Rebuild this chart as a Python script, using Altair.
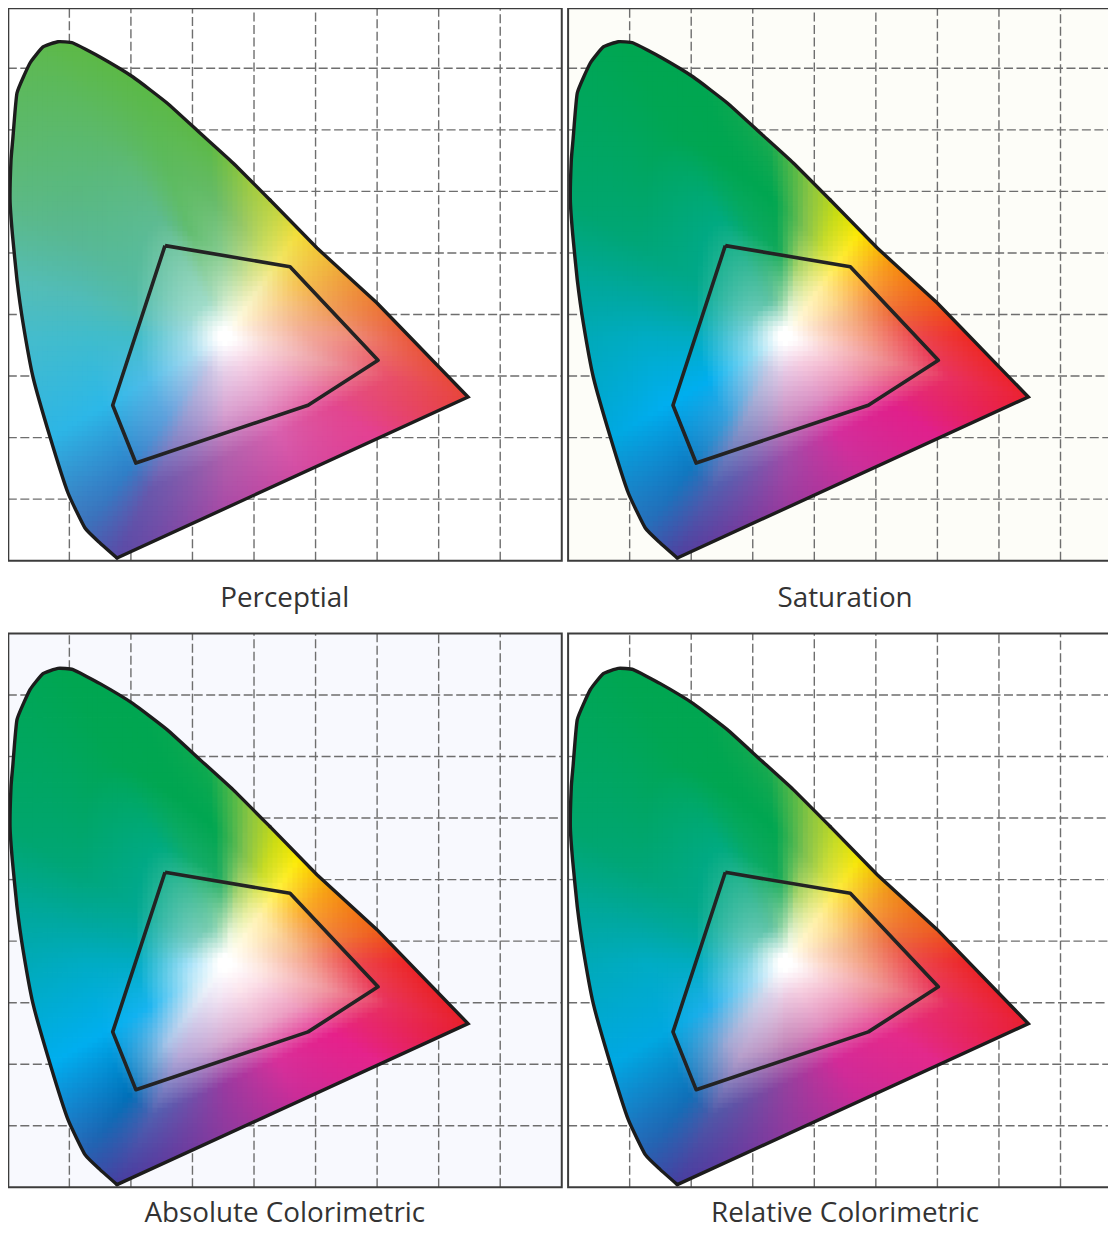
import numpy as np
import pandas as pd
import altair as alt

alt.data_transformers.disable_max_rows()

# ---- values (chromaticity units, 0..0.9 on both axes)
GRID = [0.1, 0.2, 0.3, 0.4, 0.5, 0.6, 0.7, 0.8]
LOCUS_X = [.1774, .1498, .1254, .0978, .0686, .0409, .0247, .0149, .0075, .0036, .0052, .0080, .0149, .0361,
           .0572, .0816, .1059, .1498, .2034, .2587, .3123, .3659, .4260, .5023, .5998, .7477]
LOCUS_Y = [.0044, .0288, .0531, .1100, .2010, .2985, .3862, .4560, .5300, .5860, .6510, .6836, .7599, .8087,
           .8347, .8432, .8411, .8184, .7859, .7437, .6949, .6462, .5860, .5080, .4187, .2660]
GAMUT_X = [.2554, .4585, .6015, .4878, .2080, .1704]
GAMUT_Y = [.5119, .4777, .3258, .2526, .1587, .2526]
WHITE_X, WHITE_Y = 0.3545, 0.365

TITLES = ["Perceptial", "Saturation", "Absolute Colorimetric", "Relative Colorimetric"]
BACKGROUNDS = ["#ffffff", "#fdfdf8", "#f8f9fe", "#ffffff"]
COLUMN_SHIFT = [0, .9103, 0, .9103]
ROW_SHIFT = [0, 0, -1.0181, -1.0181]
TITLE_Y = [-.0752, -.0752, -.0560, -.0560]

# colours sampled along spokes from the white point, angle in degrees
ANGLES = [-150, -126, -116, -90, -62, -33, -14, 0, 12, 35, 55, 68, 81, 95, 109, 119, 148, 165, 180]
RINGS = [0, .04, .2, .45, .7, 1]
PERCEPTUAL = [
    ["#a8dcf0", "#50bce8", "#2cb8e8", "#2db5e5"], ["#b8c8e8", "#60a0dc", "#2f80c8", "#3f6fb9"],
    ["#c8c4e4", "#9090cc", "#6a58ac", "#5a4aa6"], ["#e8cfe8", "#d8a0d0", "#b060ac", "#ab4aa6"],
    ["#f5d5e8", "#e4a0cc", "#d860ae", "#d34ba2"], ["#f8d4e0", "#eb94bc", "#e2478f", "#e43f92"],
    ["#f8d8d8", "#ec9aa0", "#e84f6a", "#e8453a"], ["#fadcd0", "#f2a898", "#ee8a78", "#ea5a3c"],
    ["#fbe0d0", "#f4b890", "#ef9a5c", "#ed7a35"], ["#fdeed0", "#f9d898", "#f5c050", "#efb53a"],
    ["#fdf8d8", "#f5eeb0", "#f2e66a", "#f3dd35"], ["#f0f4d8", "#d8e498", "#c8dc60", "#c4d540"],
    ["#e0f0d0", "#b0d890", "#98c868", "#9fcb3e"], ["#c4e6c4", "#80c98c", "#66bb6a", "#5cb946"],
    ["#a8dcc0", "#62bd70", "#5cba5c", "#5bb947"], ["#a0dcc8", "#5ebb90", "#5cb968", "#5db947"],
    ["#a0dcd0", "#55bba0", "#58b896", "#5cb984"], ["#9fdadc", "#50bcb0", "#50bcb8", "#55bdb5"],
    ["#a0dce6", "#40bcc8", "#40bccc", "#45bccc"],
]
SATURATION = [
    ["#90dcf2", "#00aeef", "#00aeef", "#00a8e0"], ["#b8cce8", "#3aa0dc", "#0f78c0", "#2a6cb8"],
    ["#c8c8e4", "#8894c8", "#4f60b0", "#50409f"], ["#e8c8e4", "#cc90c4", "#a04ca8", "#9a3a9e"],
    ["#f5cce0", "#dd90c4", "#d42e9c", "#c9309a"], ["#f8cfdc", "#ec8ab0", "#e0208a", "#e0208c"],
    ["#fad4d4", "#ee8a90", "#e83060", "#ec2230"], ["#fcd8c8", "#f49a80", "#ec4a50", "#ee2a24"],
    ["#fcdcc8", "#f4ac80", "#ee6a3a", "#ef5a1a"], ["#feeccc", "#fcd88c", "#fbb040", "#f79410"],
    ["#fff6d0", "#fff0a0", "#ffec40", "#fbe800"], ["#f0f4d0", "#e0e888", "#c8dc30", "#c8dc10"],
    ["#e0f0d0", "#a8d468", "#7cc050", "#8cc63f"], ["#90d4a0", "#10a858", "#00a651", "#1aaa50"],
    ["#68c4a0", "#08aa68", "#00a651", "#00a651"], ["#60c4a8", "#00aa80", "#00a654", "#00a651"],
    ["#70ccc0", "#00a88a", "#00a678", "#00a66c"], ["#78d0d4", "#00aaa0", "#00a8a0", "#00a89a"],
    ["#80d4e4", "#00acc0", "#00acc4", "#00aab8"],
]
ABSOLUTE = [
    ["#c0e8f8", "#18b4f0", "#00aeef", "#00aeef"], ["#e8eef8", "#a8c4e8", "#0070b8", "#2a60b0"],
    ["#e8e4f4", "#b8a8d8", "#5060b0", "#463ea0"], ["#f4e0f0", "#d8a8d0", "#9a3aa0", "#8e3a9e"],
    ["#fce4ec", "#e8a8cc", "#d8309a", "#c92c98"], ["#fce0e8", "#ee9cc0", "#e6208a", "#e4248c"],
    ["#fde4e0", "#f098a0", "#e8305c", "#e8202a"], ["#fde4d8", "#f4a490", "#ec4a50", "#ec2428"],
    ["#feead8", "#f6bc90", "#ef7a40", "#f0601a"], ["#fff4dc", "#fde0a0", "#fbb030", "#f69a10"],
    ["#fffae0", "#fff2b0", "#fff040", "#fcea00"], ["#f4f8d8", "#e4ec90", "#c8dc28", "#cedc10"],
    ["#e8f4d8", "#a8d470", "#7cc050", "#8cc63f"], ["#a8dcb0", "#18aa60", "#00a651", "#10aa50"],
    ["#80d0b0", "#10ac6c", "#00a651", "#00a651"], ["#78ccb0", "#00aa80", "#00a654", "#00a651"],
    ["#80d0c8", "#00a890", "#00a678", "#00a66c"], ["#90d8e0", "#00aaa8", "#00a8a0", "#00a89a"],
    ["#a0e0f8", "#00acc4", "#00acc4", "#00aab8"],
]
RELATIVE = [
    ["#a0dcf4", "#20b0ec", "#00a8e0", "#00a8e4"], ["#d0d8ec", "#a0a8d4", "#0f70b8", "#2a60b0"],
    ["#d8d0e8", "#b8a0cc", "#4f58a8", "#473ea0"], ["#ecc8e0", "#c88cbc", "#94409e", "#8f3a9e"],
    ["#f6cfe0", "#e090c0", "#d42a98", "#c92c98"], ["#f8d0dc", "#ec88b0", "#e42a8a", "#e2288c"],
    ["#fad4d4", "#ee8c90", "#e82c60", "#ea2030"], ["#fcd8c8", "#f29c80", "#ec4a50", "#ec2428"],
    ["#fcdcc8", "#f2ac80", "#ec6a40", "#ee5c20"], ["#feeccc", "#fcd88c", "#f8b040", "#f09018"],
    ["#fff6d0", "#fff0a0", "#fdea40", "#f5e600"], ["#f0f4d0", "#e0e888", "#c8dc40", "#c8dc20"],
    ["#e0f0d0", "#a8d468", "#7cc050", "#8cc63f"], ["#90d4a0", "#10a858", "#00a651", "#1aaa50"],
    ["#68c4a0", "#08aa68", "#00a651", "#00a651"], ["#60c4a8", "#00aa80", "#00a654", "#00a651"],
    ["#70ccc0", "#00a88a", "#00a678", "#00a66c"], ["#78d0d4", "#00aaa0", "#00a8a0", "#00a89a"],
    ["#80d4e4", "#00acc0", "#00acc4", "#00aab8"],
]
TABLES = [PERCEPTUAL, SATURATION, ABSOLUTE, RELATIVE]

PX_PER_UNIT = 615.5
CELL = 5
CORE_RADIUS = 190 / PX_PER_UNIT  # rim length used for the white core, so the core stays round
WIDTH, HEIGHT = 1100, 1221
X_DOMAIN = [0.0003, 0.0003 + WIDTH / PX_PER_UNIT]
Y_DOMAIN = [.898 - HEIGHT / PX_PER_UNIT, .898]

lx, ly = np.array(LOCUS_X), np.array(LOCUS_Y)
cx, cy = np.r_[lx, lx[0]], np.r_[ly, ly[0]]
CURVE_END = 23  # outline is curved up to this point, straight after it


def rim_radius(theta):
    """Distance from the white point to the outline along each angle."""
    dx, dy = np.cos(theta), np.sin(theta)
    best = np.full(theta.shape, np.inf)
    for i in range(len(cx) - 1):
        ex, ey = cx[i + 1] - cx[i], cy[i + 1] - cy[i]
        qx, qy = cx[i] - WHITE_X, cy[i] - WHITE_Y
        den = dx * ey - dy * ex
        with np.errstate(divide="ignore", invalid="ignore"):
            t = (qx * ey - qy * ex) / den
            u = (qx * dy - qy * dx) / den
        ok = (t > 0) & (u >= 0) & (u <= 1)
        best = np.where(ok & (t < best), t, best)
    return best


def hex_rgb(h):
    return [int(h[i:i + 2], 16) for i in (1, 3, 5)]


step = CELL / PX_PER_UNIT
gx, gy = np.meshgrid(np.arange(step / 2, .9, step), np.arange(step / 2, .9, step))
gx, gy = gx.ravel(), gy.ravel()
ang = np.arctan2(gy - WHITE_Y, gx - WHITE_X)
dist = np.hypot(gx - WHITE_X, gy - WHITE_Y)
rim = rim_radius(ang)
keep = dist / rim <= 1.06
gx, gy, ang, dist, rim = gx[keep], gy[keep], np.degrees(ang[keep]), dist[keep], rim[keep]
core = .2 * np.minimum(rim, CORE_RADIUS)
frac = np.where(dist < core, .2 * dist / core, .2 + .8 * (dist - core) / (rim - core))
frac = np.clip(frac, 0, 1)


def field(table, dx, dy):
    t = np.zeros((len(ANGLES), len(RINGS), 3))
    for a, row in enumerate(table):
        t[a, 0] = t[a, 1] = 255
        t[a, 2:] = [hex_rgb(c) for c in row]
    by_ring = np.stack([[np.interp(ang, ANGLES, t[:, r, ch], period=360) for ch in range(3)]
                        for r in range(len(RINGS))])  # ring, channel, cell
    pos = np.interp(frac, RINGS, np.arange(len(RINGS)))
    lo = np.minimum(pos.astype(int), len(RINGS) - 2)
    w = pos - lo
    idx = np.arange(len(gx))
    rgb = np.stack([by_ring[lo, ch, idx] * (1 - w) + by_ring[lo + 1, ch, idx] * w for ch in range(3)], axis=1)
    rgb = rgb.round().astype(int)
    return pd.DataFrame({"x": (gx + dx).round(4), "y": (gy + dy).round(4),
                         "c": ["#%02x%02x%02x" % tuple(v) for v in rgb]})


def crossings(value, a, b):
    out = []
    for i in range(len(a) - 1):
        if (a[i] - value) * (a[i + 1] - value) <= 0 and a[i] != a[i + 1]:
            out.append(b[i] + (value - a[i]) / (a[i + 1] - a[i]) * (b[i + 1] - b[i]))
    return out


def grid_parts():
    rows = []
    for g in GRID:
        hit = crossings(g, cx, cy)
        for s, e in ([(0, min(hit)), (max(hit), .9)] if hit else [(0, .9)]):
            rows.append({"x": g, "x2": g, "y": s, "y2": e})
        hit = crossings(g, cy, cx)
        for s, e in ([(0, min(hit)), (max(hit), .9)] if hit else [(0, .9)]):
            rows.append({"x": s, "x2": e, "y": g, "y2": g})
    return pd.DataFrame(rows)


X = alt.X("x:Q", scale=alt.Scale(domain=X_DOMAIN, nice=False, zero=False), axis=None)
Y = alt.Y("y:Q", scale=alt.Scale(domain=Y_DOMAIN, nice=False, zero=False), axis=None)
parts = grid_parts()
layers = []


def path(xs, ys, dx, dy):
    return pd.DataFrame({"x": np.asarray(xs) + dx, "y": np.asarray(ys) + dy, "i": range(len(xs))})


for k in range(4):
    dx, dy = COLUMN_SHIFT[k], ROW_SHIFT[k]
    layers.append(alt.Chart(field(TABLES[k], dx, dy)).mark_rect(width=CELL + .7, height=CELL + .7).encode(
        x=X, y=Y, color=alt.Color("c:N", scale=None)))
    mx = [0, .9, .9, 0, 0] + list(cx) + [0]
    my = [0, 0, .9, .9, 0] + list(cy) + [0]
    layers.append(alt.Chart(path(mx, my, dx, dy)).mark_line(fill=BACKGROUNDS[k], strokeOpacity=0).encode(
        x=X, y=Y, order="i:Q"))
    shifted = parts.assign(x=parts.x + dx, x2=parts.x2 + dx, y=parts.y + dy, y2=parts.y2 + dy)
    layers.append(alt.Chart(shifted).mark_rule(color="#6e6e6e", strokeWidth=1.4, strokeDash=[9, 3.5]).encode(
        x=X, y=Y, x2="x2:Q", y2="y2:Q"))
    layers.append(alt.Chart(path(cx[:CURVE_END], cy[:CURVE_END], dx, dy)).mark_line(
        color="#1c1c1c", strokeWidth=3.4, interpolate="cardinal", tension=.6, strokeCap="round").encode(
        x=X, y=Y, order="i:Q"))
    layers.append(alt.Chart(path(cx[CURVE_END - 1:], cy[CURVE_END - 1:], dx, dy)).mark_line(
        color="#1c1c1c", strokeWidth=3.4, strokeJoin="miter", strokeCap="round").encode(x=X, y=Y, order="i:Q"))
    layers.append(alt.Chart(path(GAMUT_X + GAMUT_X[:1], GAMUT_Y + GAMUT_Y[:1], dx, dy)).mark_line(
        color="#232323", strokeWidth=3.6, strokeJoin="round").encode(x=X, y=Y, order="i:Q"))
    box = pd.DataFrame({"x": [dx + (.0008 if dx == 0 else 0)], "x2": [dx + .9],
                        "y": [dy], "y2": [dy + (.8975 if dy == 0 else .9)]})
    layers.append(alt.Chart(box).mark_rect(fillOpacity=0, stroke="#3c3c3c", strokeWidth=2).encode(
        x=X, x2="x2:Q", y=Y, y2="y2:Q"))
    label = pd.DataFrame({"x": [dx + .45], "y": [dy + TITLE_Y[k]], "t": [TITLES[k]]})
    layers.append(alt.Chart(label).mark_text(font="Open Sans", fontSize=27.8, color="#333333", align="center",
                                             baseline="alphabetic").encode(x=X, y=Y, text="t:N"))

chart = alt.layer(*layers).properties(
    width=WIDTH, height=HEIGHT, padding=0, background="#ffffff",
    autosize=alt.AutoSizeParams(type="none"),
).configure_view(stroke=None)

chart.save("out.html", embed_options={"renderer": "svg", "actions": False})
